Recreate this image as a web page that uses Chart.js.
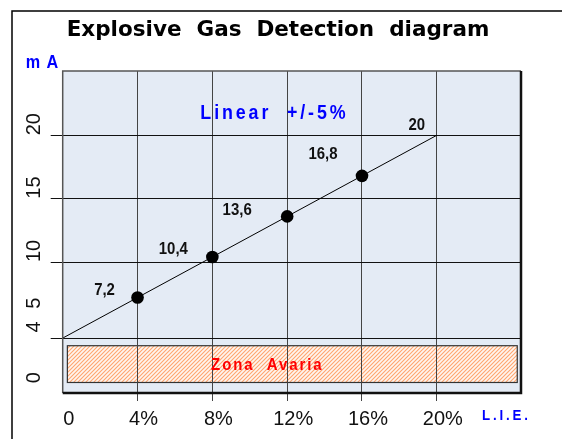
<!DOCTYPE html>
<html>
<head>
<meta charset="utf-8">
<script src="https://cdn.jsdelivr.net/npm/chart.js@4"></script>
<style>
  html, body { margin: 0; padding: 0; background: #fff; }
  #wrap { width: 562px; height: 439px; }
</style>
</head>
<body>
<div id="wrap"><canvas id="gas-chart" width="562" height="439"></canvas></div>
<script>
// L.I.E. percentage vs output current
const lieValues = [0, 4, 8, 12, 16, 20];
const maValues = [4, 7.2, 10.4, 13.6, 16.8, 20];
const pointLabels = ["", "7,2", "10,4", "13,6", "16,8", "20"];

// axis ticks
const xTicks = [0, 4, 8, 12, 16, 20];
const yTicks = [0, 4, 5, 10, 15, 20];
const yGridTicks = [4, 10, 15, 20];

// fault zone box (x in %, y in mA)
const zonaX = [0.25, 24.3];
const zonaY = [0.5, 3.4];

// label offsets in px from each point
const labelShift = [[0, 0], [-33, -7], [-39, -8], [-50, -6], [-39, -22], [-20, -10]];
// leading spaces on the low y labels so 4 and 5 don't run together
const yLabelPad = { 0: 1, 4: 1, 5: 3 };

const sans = "'Liberation Sans', Arial, sans-serif";

function hatchPattern(ctx) {
  const c = document.createElement("canvas");
  c.width = 4; c.height = 4;
  const g = c.getContext("2d");
  g.fillStyle = "#fff6f0";
  g.fillRect(0, 0, 4, 4);
  g.strokeStyle = "#ffa56e";
  g.lineWidth = 1.1;
  g.beginPath();
  g.moveTo(0, 4); g.lineTo(4, 0);
  g.moveTo(-1, 1); g.lineTo(1, -1);
  g.moveTo(3, 5); g.lineTo(5, 3);
  g.stroke();
  return ctx.createPattern(c, "repeat");
}

// text squeezed horizontally to look like a narrow face
function narrowText(ctx, text, x, y, font, color, spacing, squeeze) {
  ctx.save();
  ctx.translate(x, y);
  ctx.scale(squeeze, 1);
  ctx.font = font;
  ctx.fillStyle = color;
  ctx.letterSpacing = spacing + "px";
  ctx.textAlign = "center";
  ctx.textBaseline = "middle";
  ctx.fillText(text, spacing / 2, 0);
  ctx.restore();
}

const diagramPlugin = {
  id: "diagram",
  beforeDraw(chart) {
    const { ctx, chartArea: a, scales: { x, y } } = chart;
    ctx.save();
    ctx.fillStyle = "#fff";
    ctx.fillRect(0, 0, chart.width, chart.height);
    // outer frame
    ctx.strokeStyle = "#000";
    ctx.lineWidth = 1.5;
    ctx.strokeRect(12, 11, 700, 600);
    // plot background
    ctx.fillStyle = "#e4ebf5";
    ctx.fillRect(a.left, a.top, a.right - a.left, a.bottom - a.top);
    // fault zone
    const zx0 = x.getPixelForValue(zonaX[0]);
    const zx1 = x.getPixelForValue(zonaX[1]);
    const zy0 = y.getPixelForValue(zonaY[1]);
    const zy1 = y.getPixelForValue(zonaY[0]);
    ctx.fillStyle = hatchPattern(ctx);
    ctx.fillRect(zx0, zy0, zx1 - zx0, zy1 - zy0);
    ctx.strokeStyle = "#333";
    ctx.lineWidth = 1.2;
    ctx.strokeRect(zx0, zy0, zx1 - zx0, zy1 - zy0);
    ctx.restore();
  },
  afterDatasetsDraw(chart) {
    const { ctx, chartArea: a, scales: { x, y } } = chart;
    ctx.save();
    // plot frame, darker on right and bottom
    ctx.strokeStyle = "#555";
    ctx.lineWidth = 1.5;
    ctx.beginPath();
    ctx.moveTo(a.left, a.bottom);
    ctx.lineTo(a.left, a.top);
    ctx.lineTo(a.right, a.top);
    ctx.stroke();
    ctx.strokeStyle = "#111";
    ctx.lineWidth = 2.5;
    ctx.beginPath();
    ctx.moveTo(a.right, a.top);
    ctx.lineTo(a.right, a.bottom);
    ctx.lineTo(a.left, a.bottom);
    ctx.stroke();
    ctx.restore();

    // value labels
    const meta = chart.getDatasetMeta(0);
    meta.data.forEach((pt, i) => {
      if (!pointLabels[i]) return;
      narrowText(ctx, pointLabels[i], pt.x + labelShift[i][0], pt.y + labelShift[i][1],
        "bold 17px " + sans, "#111", 0, 0.88);
    });

    // texts
    const midZona = (x.getPixelForValue(zonaX[0]) + x.getPixelForValue(zonaX[1])) / 2;
    const midZonaY = (y.getPixelForValue(zonaY[0]) + y.getPixelForValue(zonaY[1])) / 2;
    narrowText(ctx, "Zona  Avaria", midZona - 26, midZonaY + 1, "bold 17px " + sans, "#ff0000", 2.2, 0.88);
    narrowText(ctx, "Linear  +/-5%", 273, 113, "bold 21px " + sans, "#0000ff", 3.4, 0.85);
    narrowText(ctx, "Explosive  Gas  Detection  diagram", 278, 30,
      "bold 21.5px 'DejaVu Sans', Verdana, sans-serif", "#000", 0, 1);
    narrowText(ctx, "m A", 42, 63, "bold 18px " + sans, "#0000ff", 1, 0.9);
    narrowText(ctx, "L.I.E.", 505, 416, "bold 14px " + sans, "#0000ff", 3, 0.95);
  }
};

const ctx = document.getElementById("gas-chart").getContext("2d");
new Chart(ctx, {
  type: "line",
  data: {
    datasets: [{
      data: lieValues.map((v, i) => ({ x: v, y: maValues[i] })),
      borderColor: "#000",
      borderWidth: 1,
      pointRadius: lieValues.map((v, i) => (i === 0 || i === lieValues.length - 1) ? 0 : 6.3),
      pointBackgroundColor: "#000",
      pointBorderWidth: 0,
      tension: 0,
      clip: 2
    }]
  },
  options: {
    responsive: false,
    animation: false,
    events: [],
    layout: { padding: { left: 24, right: 41, top: 71, bottom: 0 } },
    plugins: { legend: { display: false }, tooltip: { enabled: false }, title: { display: false } },
    scales: {
      x: {
        type: "linear",
        min: 0,
        max: 24.5,
        afterBuildTicks: s => { s.ticks = xTicks.map(v => ({ value: v })); },
        afterFit: s => { s.height = 46; },
        border: { display: false },
        grid: {
          color: c => (c.tick && c.tick.value === 0) ? "rgba(0,0,0,0)" : "#444",
          lineWidth: 1,
          tickLength: 8
        },
        ticks: {
          padding: 6,
          labelOffset: 6,
          color: "#111",
          font: { family: sans, size: 20 },
          callback: v => v === 0 ? "0" : v + "%"
        }
      },
      y: {
        type: "linear",
        min: -0.33,
        max: 25.07,
        afterBuildTicks: s => { s.ticks = yTicks.map(v => ({ value: v })); },
        afterFit: s => { s.width = 38.7; },
        border: { display: false },
        grid: {
          color: c => (c.tick && yGridTicks.includes(c.tick.value)) ? "#111" : "rgba(0,0,0,0)",
          lineWidth: 1,
          tickLength: 12
        },
        ticks: {
          minRotation: 90,
          maxRotation: 90,
          crossAlign: "far",
          align: "start",
          padding: 0,
          color: "#111",
          font: { family: sans, size: 20 },
          callback: v => " ".repeat(yLabelPad[v] || 0) + v
        }
      }
    }
  },
  plugins: [diagramPlugin]
});
</script>
</body>
</html>
